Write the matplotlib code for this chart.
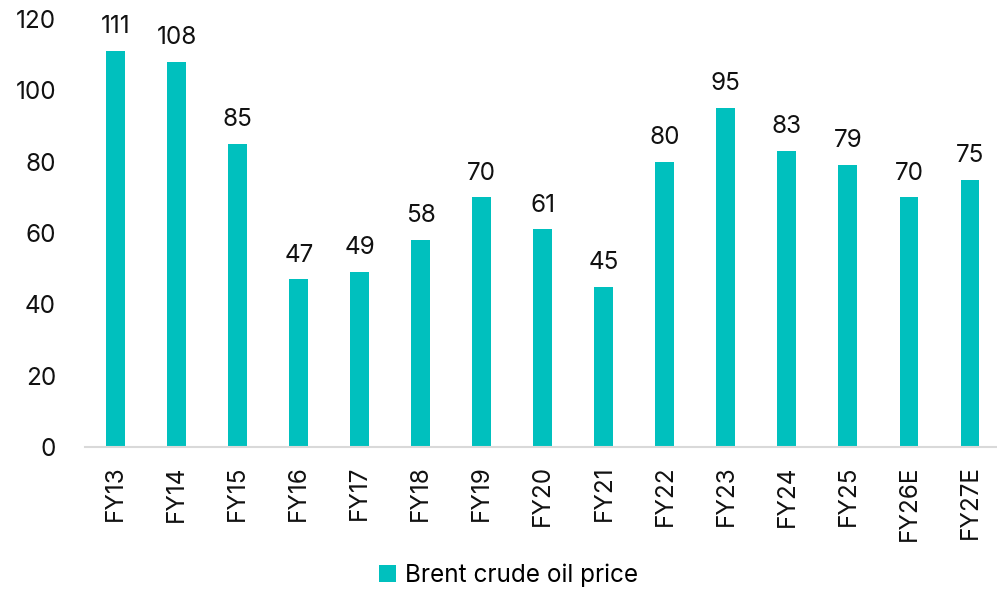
import matplotlib.pyplot as plt
import numpy as np

plt.rcParams['font.family'] = ['Inter', 'DejaVu Sans']

years = ['FY13', 'FY14', 'FY15', 'FY16', 'FY17', 'FY18', 'FY19', 'FY20',
         'FY21', 'FY22', 'FY23', 'FY24', 'FY25', 'FY26E', 'FY27E']
brent = [111, 108, 85, 47, 49, 58, 70, 61, 45, 80, 95, 83, 79, 70, 75]

fig = plt.figure(figsize=(9.97, 5.9), dpi=100)
ax = fig.add_axes([0.0855, 0.242, 0.918, 0.726])

x = np.arange(len(years))
bars = ax.bar(x, brent, width=0.31, color='#00C0BE', label='Brent crude oil price')

# value labels above each bar
for xi, v in zip(x, brent):
    ax.text(xi, v + 3.6, str(v), ha='center', va='bottom', fontsize=17.5, color='#111111')

ax.set_ylim(0, 120)
ax.set_xlim(-0.5, len(years) - 0.5)
ax.set_yticks(np.arange(0, 121, 20))
ax.set_xticks(x)
ax.set_xticklabels(years, rotation=90)
ax.tick_params(axis='both', length=0, labelsize=17.5, colors='#111111')
ax.tick_params(axis='x', pad=13)
ax.tick_params(axis='y', pad=21)

for s in ['top', 'right', 'left']:
    ax.spines[s].set_visible(False)
ax.spines['bottom'].set_color('#D9D9D9')
ax.spines['bottom'].set_linewidth(1.5)

fig.legend(handles=[bars], labels=['Brent crude oil price'], loc='center',
           bbox_to_anchor=(0.51, 0.025), frameon=False, fontsize=17.5,
           handlelength=0.7, handleheight=0.7, handletextpad=0.4)

fig.savefig('out.png', dpi=100)
